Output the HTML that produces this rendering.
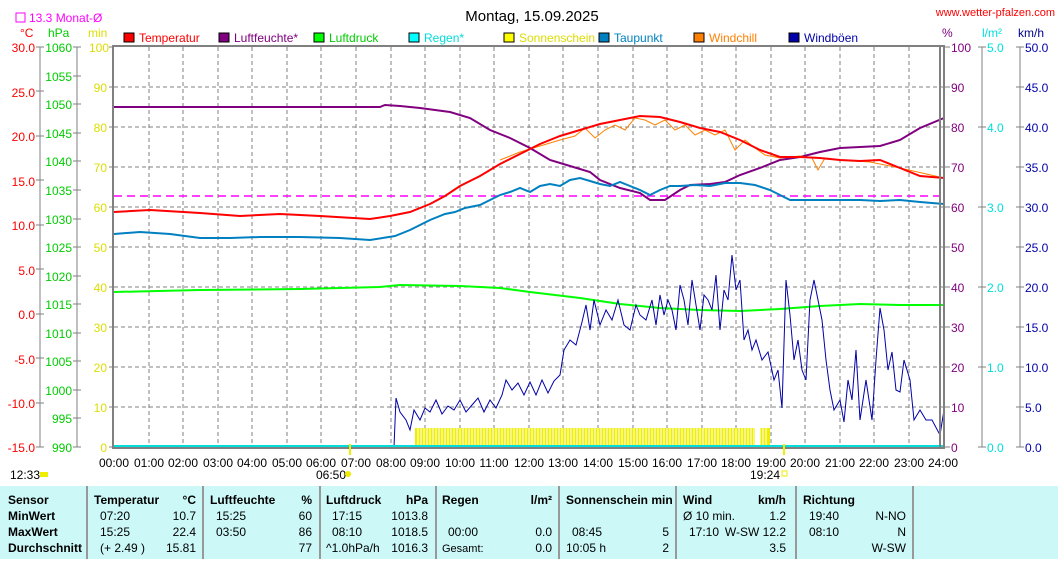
<!DOCTYPE html>
<html><head><meta charset="utf-8"><style>
body{margin:0;background:#fff;width:1058px;height:559px;overflow:hidden;font-family:"Liberation Sans",sans-serif}
svg text{font-family:"Liberation Sans",sans-serif;font-size:12px}
</style></head><body>
<svg width="1058" height="559" viewBox="0 0 1058 559" xmlns="http://www.w3.org/2000/svg">
<rect width="1058" height="559" fill="#fff"/>
<text x="532" y="21" text-anchor="middle" font-size="15" style="font-size:15px">Montag, 15.09.2025</text>
<text x="1055" y="16" text-anchor="end" fill="#f00" style="font-size:11px">www.wetter-pfalzen.com</text>
<rect x="16" y="13" width="9" height="9" fill="none" stroke="#f0f"/>
<text x="29" y="22" fill="#f0f">13.3 Monat-Ø</text>
<text x="20" y="37" fill="#f00">°C</text>
<text x="48" y="37" fill="#0c0">hPa</text>
<text x="88" y="37" fill="#dd0">min</text>
<text x="942" y="37" fill="#800080">%</text>
<text x="982" y="37" fill="#0dd">l/m²</text>
<text x="1018" y="37" fill="#008">km/h</text>
<!-- legend -->
<g>
<rect x="124" y="33" width="10" height="9" fill="#f00" stroke="#000"/><text x="139" y="42" fill="#f00">Temperatur</text>
<rect x="219" y="33" width="10" height="9" fill="#800080" stroke="#000"/><text x="234" y="42" fill="#800080">Luftfeuchte*</text>
<rect x="314" y="33" width="10" height="9" fill="#0f0" stroke="#000"/><text x="329" y="42" fill="#0c0">Luftdruck</text>
<rect x="409" y="33" width="10" height="9" fill="#0ff" stroke="#000"/><text x="424" y="42" fill="#0dd">Regen*</text>
<rect x="504" y="33" width="10" height="9" fill="#ff0" stroke="#000"/><text x="519" y="42" fill="#dd0">Sonnenschein</text>
<rect x="599" y="33" width="10" height="9" fill="#0080c0" stroke="#000"/><text x="614" y="42" fill="#0080c0">Taupunkt</text>
<rect x="694" y="33" width="10" height="9" fill="#ff8000" stroke="#000"/><text x="709" y="42" fill="#ff8000">Windchill</text>
<rect x="789" y="33" width="10" height="9" fill="#00a" stroke="#000"/><text x="804" y="42" fill="#00a">Windböen</text>
</g>
<!-- left axes -->
<g stroke="#808080" fill="none">
<line x1="40" y1="47" x2="40" y2="447"/><line x1="77" y1="47" x2="77" y2="447"/>
<line x1="982" y1="47" x2="982" y2="447"/><line x1="1020" y1="47" x2="1020" y2="447"/>
</g>
<g fill="#f00" text-anchor="end">
<text x="35" y="52">30.0</text><text x="35" y="97">25.0</text><text x="35" y="141">20.0</text><text x="35" y="186">15.0</text><text x="35" y="230">10.0</text><text x="35" y="275">5.0</text><text x="35" y="319">0.0</text><text x="35" y="364">-5.0</text><text x="35" y="408">-10.0</text><text x="35" y="452">-15.0</text>
</g>
<g stroke="#808080"><path d="M36 47h8M36 91h8M36 136h8M36 180h8M36 225h8M36 269h8M36 314h8M36 358h8M36 403h8M36 447h8M73 47h8M73 76h8M73 104h8M73 133h8M73 161h8M73 190h8M73 219h8M73 247h8M73 276h8M73 304h8M73 333h8M73 361h8M73 390h8M73 418h8M73 447h8M109 47h5M109 87h5M109 127h5M109 167h5M109 207h5M109 247h5M109 287h5M109 327h5M109 367h5M109 407h5M109 447h5M944 47h6M944 87h6M944 127h6M944 167h6M944 207h6M944 247h6M944 287h6M944 327h6M944 367h6M944 407h6M944 447h6M978 47h8M978 127h8M978 207h8M978 287h8M978 367h8M978 447h8M1016 47h8M1016 87h8M1016 127h8M1016 167h8M1016 207h8M1016 247h8M1016 287h8M1016 327h8M1016 367h8M1016 407h8M1016 447h8"/></g>
<g fill="#0c0" text-anchor="end">
<text x="72" y="52">1060</text><text x="72" y="81">1055</text><text x="72" y="109">1050</text><text x="72" y="138">1045</text><text x="72" y="166">1040</text><text x="72" y="195">1035</text><text x="72" y="224">1030</text><text x="72" y="252">1025</text><text x="72" y="281">1020</text><text x="72" y="309">1015</text><text x="72" y="338">1010</text><text x="72" y="366">1005</text><text x="72" y="395">1000</text><text x="72" y="423">995</text><text x="72" y="452">990</text>
</g>
<g fill="#dd0" text-anchor="end">
<text x="109" y="52">100</text><text x="107" y="92">90</text><text x="107" y="132">80</text><text x="107" y="172">70</text><text x="107" y="212">60</text><text x="107" y="252">50</text><text x="107" y="292">40</text><text x="107" y="332">30</text><text x="107" y="372">20</text><text x="107" y="412">10</text><text x="107" y="452">0</text>
</g>
<g fill="#800080">
<text x="951" y="52">100</text><text x="951" y="92">90</text><text x="951" y="132">80</text><text x="951" y="172">70</text><text x="951" y="212">60</text><text x="951" y="252">50</text><text x="951" y="292">40</text><text x="951" y="332">30</text><text x="951" y="372">20</text><text x="951" y="412">10</text><text x="951" y="452">0</text>
</g>
<g fill="#0dd">
<text x="987" y="52">5.0</text><text x="987" y="132">4.0</text><text x="987" y="212">3.0</text><text x="987" y="292">2.0</text><text x="987" y="372">1.0</text><text x="987" y="452">0.0</text>
</g>
<g fill="#00a">
<text x="1025" y="52">50.0</text><text x="1025" y="92">45.0</text><text x="1025" y="132">40.0</text><text x="1025" y="172">35.0</text><text x="1025" y="212">30.0</text><text x="1025" y="252">25.0</text><text x="1025" y="292">20.0</text><text x="1025" y="332">15.0</text><text x="1025" y="372">10.0</text><text x="1025" y="412">5.0</text><text x="1025" y="452">0.0</text>
</g>
<!-- grid -->
<g stroke="#808080" stroke-dasharray="4,3">
<path d="M114 87h830M114 127h830M114 167h830M114 207h830M114 247h830M114 287h830M114 327h830M114 367h830M114 407h830"/>
<path d="M149 47v400M183 47v400M218 47v400M252 47v400M287 47v400M321 47v400M356 47v400M391 47v400M425 47v400M460 47v400M494 47v400M529 47v400M563 47v400M598 47v400M633 47v400M667 47v400M702 47v400M736 47v400M771 47v400M805 47v400M840 47v400M874 47v400M909 47v400"/>
</g>
<line x1="114" y1="196" x2="944" y2="196" stroke="#f0f" stroke-width="1.5" stroke-dasharray="8,5"/>
<!-- sunshine -->
<rect x="415" y="428" width="355" height="19" fill="#ee0"/>
<g stroke="#fff" stroke-width="1"><path d="M418 428v19M421 428v19M424 428v19M427 428v19M430 428v19M433 428v19M436 428v19M439 428v19M442 428v19M445 428v19M448 428v19M451 428v19M454 428v19M457 428v19M460 428v19M463 428v19M466 428v19M469 428v19M472 428v19M475 428v19M478 428v19M481 428v19M484 428v19M487 428v19M490 428v19M493 428v19M496 428v19M499 428v19M502 428v19M505 428v19M508 428v19M511 428v19M514 428v19M517 428v19M520 428v19M523 428v19M526 428v19M529 428v19M532 428v19M535 428v19M538 428v19M541 428v19M544 428v19M547 428v19M550 428v19M553 428v19M556 428v19M559 428v19M562 428v19M565 428v19M568 428v19M571 428v19M574 428v19M577 428v19M580 428v19M583 428v19M586 428v19M589 428v19M592 428v19M595 428v19M598 428v19M601 428v19M604 428v19M607 428v19M610 428v19M613 428v19M616 428v19M619 428v19M622 428v19M625 428v19M628 428v19M631 428v19M634 428v19M637 428v19M640 428v19M643 428v19M646 428v19M649 428v19M652 428v19M655 428v19M658 428v19M661 428v19M664 428v19M667 428v19M670 428v19M673 428v19M676 428v19M679 428v19M682 428v19M685 428v19M688 428v19M691 428v19M694 428v19M697 428v19M700 428v19M703 428v19M706 428v19M709 428v19M712 428v19M715 428v19M718 428v19M721 428v19M724 428v19M727 428v19M730 428v19M733 428v19M736 428v19M739 428v19M742 428v19M745 428v19M748 428v19M751 428v19M754 428v19M757 428v19M760 428v19M763 428v19M766 428v19"/></g>
<rect x="755" y="428" width="5" height="19" fill="#fff"/>
<!-- series -->
<polyline fill="none" stroke="#0f0" stroke-width="2" points="114,292 200,290 300,289 380,287 400,285 460,286 500,288 530,292 580,298 620,304 660,308 700,310 740,311 780,309 820,306 860,304 900,305 944,305"/>
<polyline fill="none" stroke="#800080" stroke-width="2" points="114,107 380,107 385,105 400,106 420,108 450,112 470,118 490,130 510,138 530,148 550,160 570,166 590,172 600,180 620,188 640,193 650,200 665,200 680,190 690,185 710,184 725,182 740,175 760,168 780,160 800,157 820,152 840,148 860,147 880,146 900,140 920,128 944,118"/>
<polyline fill="none" stroke="#0080c0" stroke-width="2" points="114,234 140,232 170,234 200,238 230,238 260,237 300,237 340,238 370,240 395,236 410,230 420,225 430,220 445,214 455,212 465,208 480,205 490,200 500,195 510,192 520,188 530,192 540,186 550,184 560,186 570,180 580,178 590,181 600,184 610,186 620,182 630,186 640,190 650,195 660,190 670,186 680,186 695,185 710,186 725,183 740,183 755,185 770,190 790,200 810,200 830,200 860,200 880,201 900,200 920,202 944,204"/>
<polyline fill="none" stroke="#ff8000" stroke-width="1" points="500,160 520,152 540,146 560,140 575,136 585,128 595,138 605,130 615,125 625,130 635,118 645,120 655,125 665,120 675,130 685,125 695,135 705,130 715,135 725,130 735,150 745,140 755,148 765,155 780,158 800,156 812,158 818,170 825,158 840,160 870,162 900,168 944,178"/>
<polyline fill="none" stroke="#f00" stroke-width="2" points="114,212 150,210 200,213 240,216 280,214 320,216 370,219 390,216 410,212 430,204 445,196 460,186 480,176 500,164 520,154 540,144 560,136 580,130 600,124 620,120 640,116 660,117 680,122 700,128 720,132 740,140 760,150 780,157 800,157 820,158 840,160 860,161 880,160 900,168 920,176 944,178"/>
<polyline fill="none" stroke="#00a" stroke-width="1" points="394,447 396,398 400,412 406,420 410,430 414,410 420,420 425,408 430,412 436,400 442,414 448,406 454,410 460,400 466,412 472,405 478,398 484,412 490,400 496,408 502,395 506,380 512,390 518,383 524,395 530,382 536,395 542,380 548,393 554,381 560,375 564,350 570,340 576,345 582,322 586,305 590,330 594,300 600,325 606,310 612,320 618,300 624,325 630,330 636,305 640,315 646,320 652,300 656,325 660,295 664,315 668,300 672,310 676,330 680,285 684,300 688,325 692,280 696,305 700,330 704,295 708,300 712,310 716,275 720,330 724,290 728,300 732,255 736,290 740,280 744,340 748,330 752,350 756,340 762,360 768,352 774,380 778,370 782,408 786,280 790,315 794,360 798,340 802,370 806,380 810,300 814,280 818,300 822,320 826,360 830,390 834,410 840,400 844,422 848,380 852,400 856,350 860,420 866,380 872,420 876,360 880,308 884,330 888,370 892,352 896,390 900,392 904,360 910,380 914,420 920,410 926,420 932,420 940,435 944,410"/>
<line x1="114" y1="446" x2="944" y2="446" stroke="#0dd" stroke-width="2"/>
<rect x="113" y="46" width="831" height="402" fill="none" stroke="#808080" stroke-width="2"/>
<line x1="940" y1="47" x2="940" y2="447" stroke="#808080" stroke-width="2"/>
<line x1="350" y1="444" x2="350" y2="455" stroke="#ee0" stroke-width="2"/>
<line x1="784" y1="444" x2="784" y2="455" stroke="#ee0" stroke-width="2"/>
<!-- x labels -->
<g text-anchor="middle">
<text x="114" y="467">00:00</text><text x="149" y="467">01:00</text><text x="183" y="467">02:00</text><text x="218" y="467">03:00</text><text x="252" y="467">04:00</text><text x="287" y="467">05:00</text><text x="321" y="467">06:00</text><text x="356" y="467">07:00</text><text x="391" y="467">08:00</text><text x="425" y="467">09:00</text><text x="460" y="467">10:00</text><text x="494" y="467">11:00</text><text x="529" y="467">12:00</text><text x="563" y="467">13:00</text><text x="598" y="467">14:00</text><text x="633" y="467">15:00</text><text x="667" y="467">16:00</text><text x="702" y="467">17:00</text><text x="736" y="467">18:00</text><text x="771" y="467">19:00</text><text x="805" y="467">20:00</text><text x="840" y="467">21:00</text><text x="874" y="467">22:00</text><text x="909" y="467">23:00</text><text x="943" y="467">24:00</text>
</g>
<text x="10" y="479">12:33</text><rect x="40" y="472" width="8" height="5" fill="#ee0"/>
<text x="316" y="479">06:50</text><circle cx="348" cy="474" r="3" fill="#ee0"/>
<text x="750" y="479">19:24</text><rect x="782" y="471" width="5" height="5" fill="none" stroke="#ee0"/>
<!-- table -->
<rect x="0" y="486" width="1058" height="73" fill="#ccf8f8"/>
<g stroke="#999" stroke-width="2"><path d="M87 486v73M203 486v73M320 486v73M436 486v73M559 486v73M676 486v73M796 486v73M913 486v73"/></g>
<g font-weight="bold" style="font-size:12px">
<text x="8" y="504" font-weight="bold">Sensor</text><text x="8" y="520" font-weight="bold">MinWert</text><text x="8" y="536" font-weight="bold">MaxWert</text><text x="8" y="552" font-weight="bold">Durchschnitt</text>
<text x="94" y="504" font-weight="bold">Temperatur</text><text x="196" y="504" font-weight="bold" text-anchor="end">°C</text>
<text x="210" y="504" font-weight="bold">Luftfeuchte</text><text x="312" y="504" font-weight="bold" text-anchor="end">%</text>
<text x="326" y="504" font-weight="bold">Luftdruck</text><text x="428" y="504" font-weight="bold" text-anchor="end">hPa</text>
<text x="442" y="504" font-weight="bold">Regen</text><text x="552" y="504" font-weight="bold" text-anchor="end">l/m²</text>
<text x="566" y="504" font-weight="bold">Sonnenschein min</text>
<text x="683" y="504" font-weight="bold">Wind</text><text x="786" y="504" font-weight="bold" text-anchor="end">km/h</text>
<text x="803" y="504" font-weight="bold">Richtung</text>
</g>
<g>
<text x="100" y="520">07:20</text><text x="196" y="520" text-anchor="end">10.7</text>
<text x="100" y="536">15:25</text><text x="196" y="536" text-anchor="end">22.4</text>
<text x="100" y="552">(+ 2.49 )</text><text x="196" y="552" text-anchor="end">15.81</text>
<text x="216" y="520">15:25</text><text x="312" y="520" text-anchor="end">60</text>
<text x="216" y="536">03:50</text><text x="312" y="536" text-anchor="end">86</text>
<text x="312" y="552" text-anchor="end">77</text>
<text x="332" y="520">17:15</text><text x="428" y="520" text-anchor="end">1013.8</text>
<text x="332" y="536">08:10</text><text x="428" y="536" text-anchor="end">1018.5</text>
<text x="326" y="552">^1.0hPa/h</text><text x="428" y="552" text-anchor="end">1016.3</text>
<text x="448" y="536">00:00</text><text x="552" y="536" text-anchor="end">0.0</text>
<text x="442" y="552" style="font-size:11px">Gesamt:</text><text x="552" y="552" text-anchor="end">0.0</text>
<text x="572" y="536">08:45</text><text x="669" y="536" text-anchor="end">5</text>
<text x="566" y="552">10:05 h</text><text x="669" y="552" text-anchor="end">2</text>
<text x="683" y="520">Ø 10 min.</text><text x="786" y="520" text-anchor="end">1.2</text>
<text x="689" y="536">17:10</text><text x="786" y="536" text-anchor="end">W-SW 12.2</text>
<text x="786" y="552" text-anchor="end">3.5</text>
<text x="809" y="520">19:40</text><text x="906" y="520" text-anchor="end">N-NO</text>
<text x="809" y="536">08:10</text><text x="906" y="536" text-anchor="end">N</text>
<text x="906" y="552" text-anchor="end">W-SW</text>
</g>
</svg>
</body></html>
